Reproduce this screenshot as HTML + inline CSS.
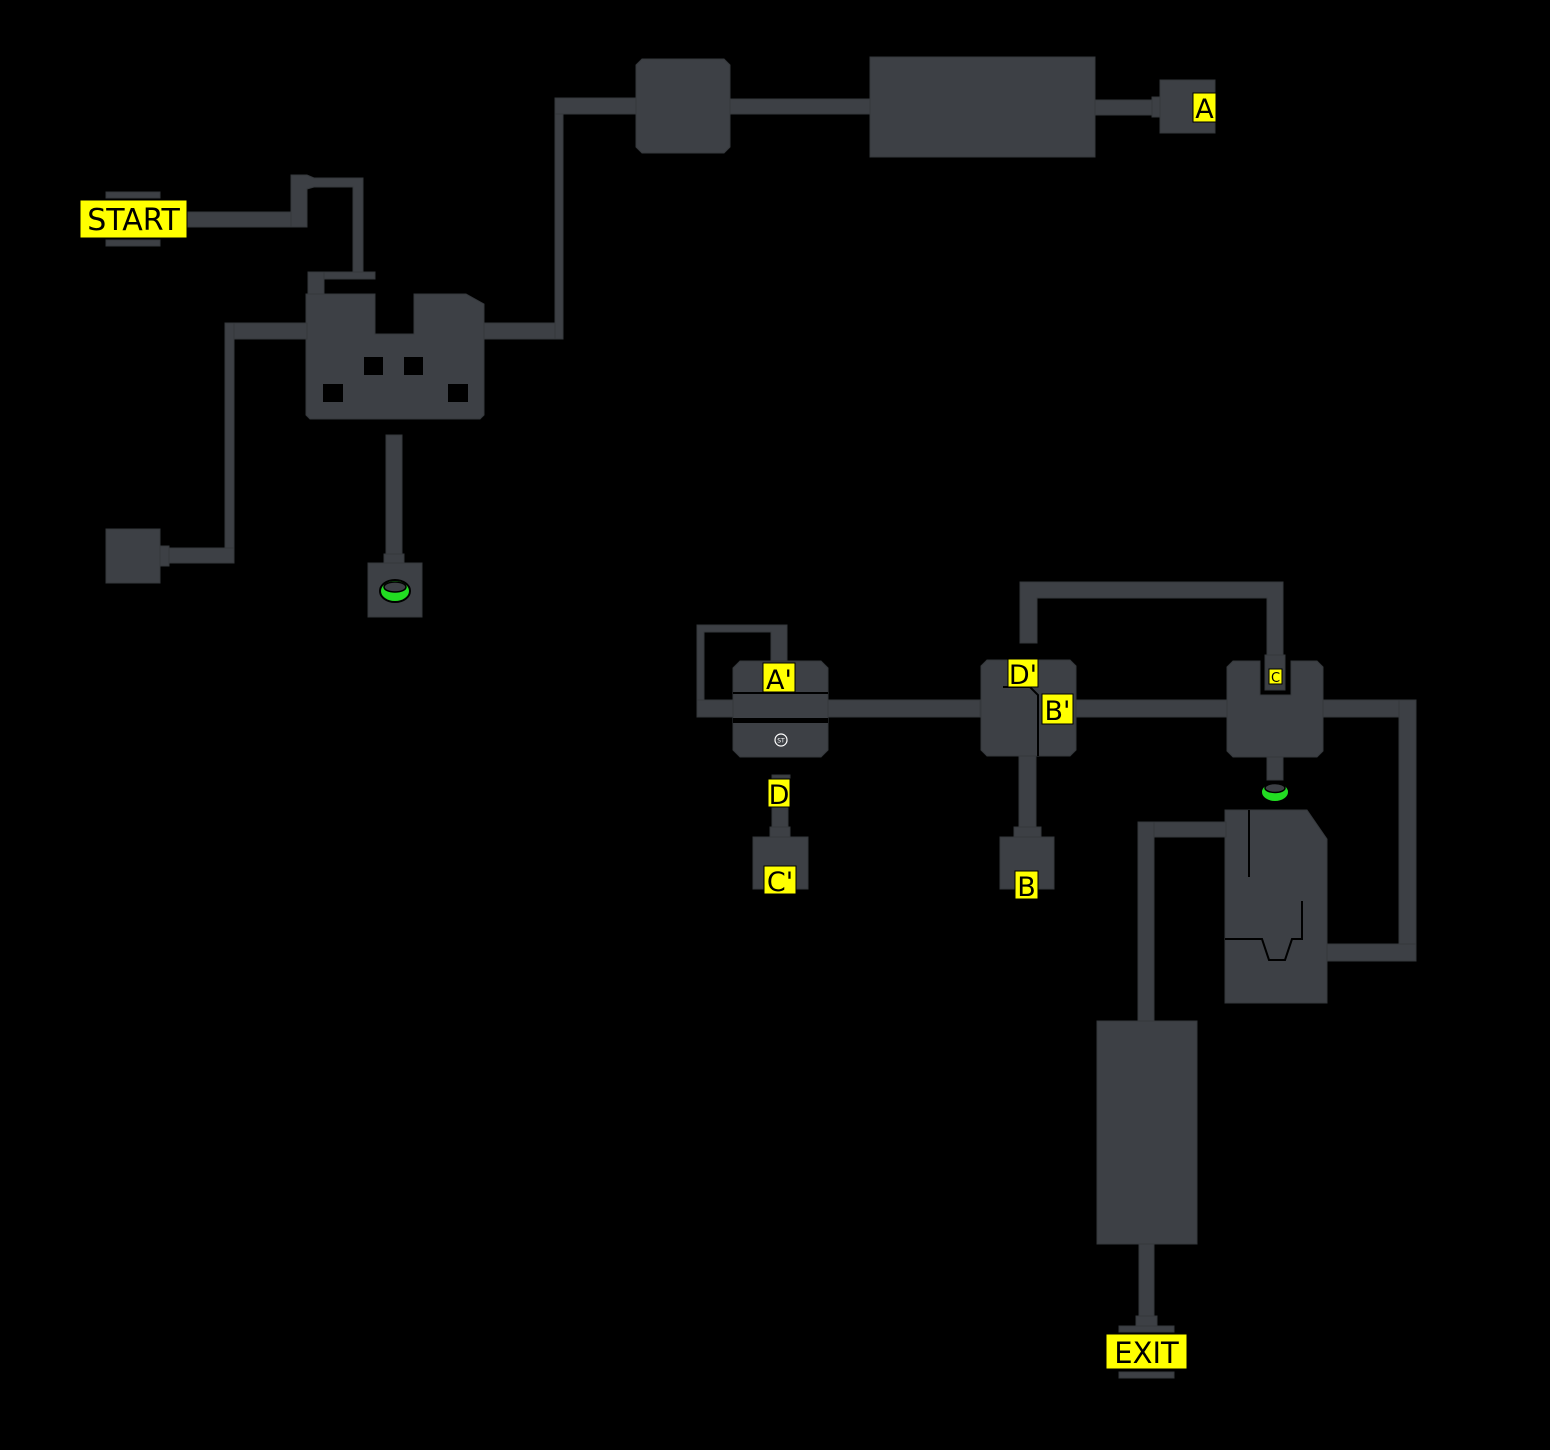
<!DOCTYPE html>
<html><head><meta charset="utf-8"><style>
html,body{margin:0;padding:0;background:#000;}
svg{display:block}
text{font-family:"DejaVu Sans","Liberation Sans",sans-serif;fill:#000;}
</style></head><body>
<svg width="1550" height="1450" viewBox="0 0 1550 1450" xmlns="http://www.w3.org/2000/svg">
<rect width="1550" height="1450" fill="#000"/>
<g fill="#3d4045" stroke="#35383c" stroke-width="1">
<!-- START area -->
<rect x="106" y="192" width="54" height="6"/>
<rect x="106" y="240" width="54" height="6"/>
<rect x="187" y="212" width="120" height="15"/>
<polygon points="291,175 307,175 314,178 363,178 363,272 353,272 353,187 314,187 307,189 307,227 291,227"/>
<rect x="308" y="272" width="67" height="7"/>
<rect x="308" y="272" width="16" height="24"/>
<polygon points="306,294 375,294 375,334 414,334 414,294 466,294 484,304 484,415 480,419 310,419 306,415"/>
<!-- left corridor -->
<rect x="225" y="323" width="82" height="16"/>
<rect x="225" y="323" width="9" height="240"/>
<rect x="168" y="548" width="66" height="15"/>
<rect x="159" y="546" width="10" height="20"/>
<rect x="106" y="529" width="54" height="54"/>
<!-- stem down -->
<rect x="386" y="435" width="16" height="120"/>
<rect x="384" y="554" width="20" height="10"/>
<rect x="368" y="563" width="54" height="54"/>
<!-- right corridor top -->
<rect x="484" y="323" width="79" height="16"/>
<rect x="555" y="98" width="8" height="241"/>
<rect x="555" y="98" width="81" height="16"/>
<polygon points="642,59 724,59 730,65 730,147 724,153 642,153 636,147 636,65"/>
<rect x="730" y="99" width="140" height="15"/>
<rect x="870" y="57" width="225" height="100"/>
<rect x="1095" y="100" width="58" height="15"/>
<rect x="1152" y="97" width="9" height="20"/>
<rect x="1160" y="80" width="55" height="53"/>
<!-- middle left -->
<polygon points="697,625 787,625 787,662 771,662 771,632 704,632 704,700 697,700"/>
<rect x="697" y="700" width="283" height="17"/>
<polygon points="740,661 821,661 828,668 828,750 821,757 740,757 733,750 733,668"/>
<rect x="772" y="775" width="18" height="3"/>
<rect x="772" y="807" width="16" height="30"/>
<rect x="770" y="827" width="20" height="11"/>
<rect x="753" y="837" width="55" height="52"/>
<!-- D'B' room -->
<polygon points="1020,582 1283,582 1283,660 1267,660 1267,598 1037,598 1037,643 1020,643"/>
<polygon points="987,660 1070,660 1076,666 1076,750 1070,756 987,756 981,750 981,666"/>
<rect x="1019" y="756" width="17" height="72"/>
<rect x="1014" y="827" width="27" height="11"/>
<rect x="1000" y="837" width="54" height="52"/>
<rect x="1076" y="700" width="152" height="17"/>
<!-- C room -->
<polygon points="1233,661 1260,661 1260,695 1291,695 1291,661 1317,661 1323,667 1323,751 1317,757 1233,757 1227,751 1227,667"/>
<rect x="1265" y="655" width="20" height="35"/>
<rect x="1323" y="700" width="93" height="17"/>
<rect x="1399" y="700" width="17" height="261"/>
<rect x="1320" y="944" width="96" height="17"/>
<rect x="1267" y="757" width="16" height="23"/>
<polygon points="1225,810 1307,810 1327,839 1327,1003 1225,1003"/>
<rect x="1138" y="822" width="88" height="15"/>
<rect x="1138" y="822" width="16" height="200"/>
<!-- EXIT -->
<rect x="1097" y="1021" width="100" height="223"/>
<rect x="1139" y="1244" width="15" height="74"/>
<rect x="1136" y="1316" width="21" height="12"/>
<rect x="1119" y="1326" width="55" height="6"/>
<rect x="1119" y="1372" width="55" height="6"/>
</g>
<!-- holes -->
<g fill="#000">
<rect x="364" y="357" width="19" height="18"/>
<rect x="404" y="357" width="19" height="18"/>
<rect x="323" y="384" width="20" height="18"/>
<rect x="448" y="384" width="20" height="18"/>
<rect x="733" y="692" width="95" height="2"/>
<rect x="733" y="718" width="95" height="5"/>
</g>
<g stroke="#000" stroke-width="2" fill="none">
<path d="M1003,687 L1030,687 L1038,695 L1038,756"/>
<path d="M1249,810 L1249,877"/>
<path d="M1302,901 L1302,939 L1292,939 L1285,960 L1269,960 L1262,939 L1225,939"/>
</g>
<!-- green rings -->
<g>
<ellipse cx="395" cy="591" rx="15" ry="11" fill="#22dd22" stroke="#000" stroke-width="2"/>
<ellipse cx="395" cy="587" rx="11" ry="5" fill="#3d4045" stroke="#000" stroke-width="1.5"/>
<ellipse cx="1275" cy="792" rx="14" ry="10" fill="#22dd22" stroke="#000" stroke-width="2"/>
<ellipse cx="1275" cy="788" rx="10" ry="4.5" fill="#3d4045" stroke="#000" stroke-width="1.5"/>
</g>
<!-- ST icon -->
<circle cx="781" cy="740" r="6" fill="#3d4045" stroke="#fff" stroke-width="1.2"/>
<text x="781" y="742.5" font-size="6" text-anchor="middle" style="fill:#fff">ST</text>
<!-- labels -->
<g fill="#ffff00" stroke="#000" stroke-width="1">
<rect x="80" y="200" width="107" height="38"/>
<rect x="1193" y="93" width="23" height="29"/>
<rect x="763" y="663" width="32" height="29"/>
<rect x="768" y="779" width="22" height="28"/>
<rect x="764" y="866" width="32" height="28"/>
<rect x="1008" y="659" width="30" height="28"/>
<rect x="1042" y="694" width="31" height="30"/>
<rect x="1015" y="871" width="23" height="28"/>
<rect x="1269" y="669" width="13" height="15"/>
<rect x="1106" y="1334" width="81" height="35"/>
</g>
<g text-anchor="middle">
<text x="133.5" y="230" font-size="30">START</text>
<text x="1204.5" y="118" font-size="27">A</text>
<text x="779" y="689" font-size="27">A'</text>
<text x="779" y="804" font-size="27">D</text>
<text x="780" y="891" font-size="27">C'</text>
<text x="1023" y="684" font-size="27">D'</text>
<text x="1057.5" y="720" font-size="27">B'</text>
<text x="1026.5" y="896" font-size="27">B</text>
<text x="1275.5" y="682" font-size="13">C</text>
<text x="1146.5" y="1363" font-size="29">EXIT</text>
</g>
</svg>
</body></html>
